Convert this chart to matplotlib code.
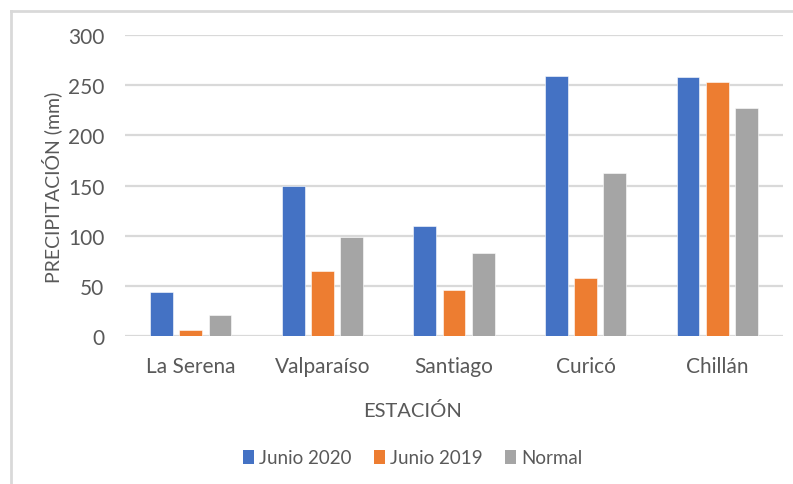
import matplotlib
matplotlib.use("Agg")
import matplotlib.pyplot as plt
import numpy as np
from matplotlib.lines import Line2D
from matplotlib.patches import Patch

categories = ["La Serena", "Valparaíso", "Santiago", "Curicó", "Chillán"]
junio_2020 = [44, 150, 110, 259, 258]
junio_2019 = [6, 65, 46, 58, 253]
normal = [21, 99, 83, 163, 227]
series_names = ["Junio 2020", "Junio 2019", "Normal"]
colors = ["#4472C4", "#ED7D31", "#A5A5A5"]
yticks = [0, 50, 100, 150, 200, 250, 300]

plt.rcParams['font.family'] = ['Lato', 'DejaVu Sans']
text_color = "#595959"
grid_color = "#D9D9D9"

W, H = 793, 485
fig = plt.figure(figsize=(W / 100, H / 100), dpi=100)
fig.patch.set_facecolor("white")

ax = fig.add_axes([125 / W, 1 - 337.3 / H, (783 - 125) / W, (337.3 - 36) / H])
x = np.arange(len(categories))
width = 0.172
offset = 0.222
for i, (vals, name, c) in enumerate(zip([junio_2020, junio_2019, normal], series_names, colors)):
    ax.bar(x + (i - 1) * offset, vals, width=width, color=c, label=name,
           edgecolor="white", linewidth=0.4, zorder=3)

ax.set_xlim(-0.5, len(categories) - 0.5)
ax.set_ylim(0, 300)
ax.set_yticks(yticks)
ax.set_yticklabels([str(v) for v in yticks])
ax.set_xticks(x)
ax.set_xticklabels(categories)
ax.tick_params(axis='both', length=0, labelsize=15, colors=text_color)
ax.tick_params(axis='y', pad=15)
ax.tick_params(axis='x', pad=14)
ax.grid(axis='y', color=grid_color, linewidth=1.6, zorder=0)
ax.set_axisbelow(True)
for s in ax.spines.values():
    s.set_visible(False)

fig.text(52 / W, 1 - 187.5 / H, "PRECIPITACIÓN (mm)", rotation=90, ha='center', va='center',
         fontsize=14, color=text_color)
fig.text(413 / W, 1 - 411 / H, "ESTACIÓN", ha='center', va='center', fontsize=14.5, color=text_color)

handles = [Patch(facecolor=c, edgecolor='none') for c in colors]
leg = fig.legend(handles, series_names, loc='center', bbox_to_anchor=(413 / W, 1 - 459 / H),
                 ncol=3, frameon=False, fontsize=13.5, handlelength=0.55, handleheight=0.7,
                 handletextpad=0.3, columnspacing=1.2, labelcolor=text_color)

# chart frame (left and top edges visible)
fig.add_artist(Line2D([10.5 / W, 10.5 / W], [0, 1 - 12 / H], transform=fig.transFigure,
                      color=grid_color, linewidth=2))
fig.add_artist(Line2D([10.5 / W, 1], [1 - 12 / H, 1 - 12 / H], transform=fig.transFigure,
                      color=grid_color, linewidth=2))

fig.savefig("out.png", dpi=100, facecolor="white")
